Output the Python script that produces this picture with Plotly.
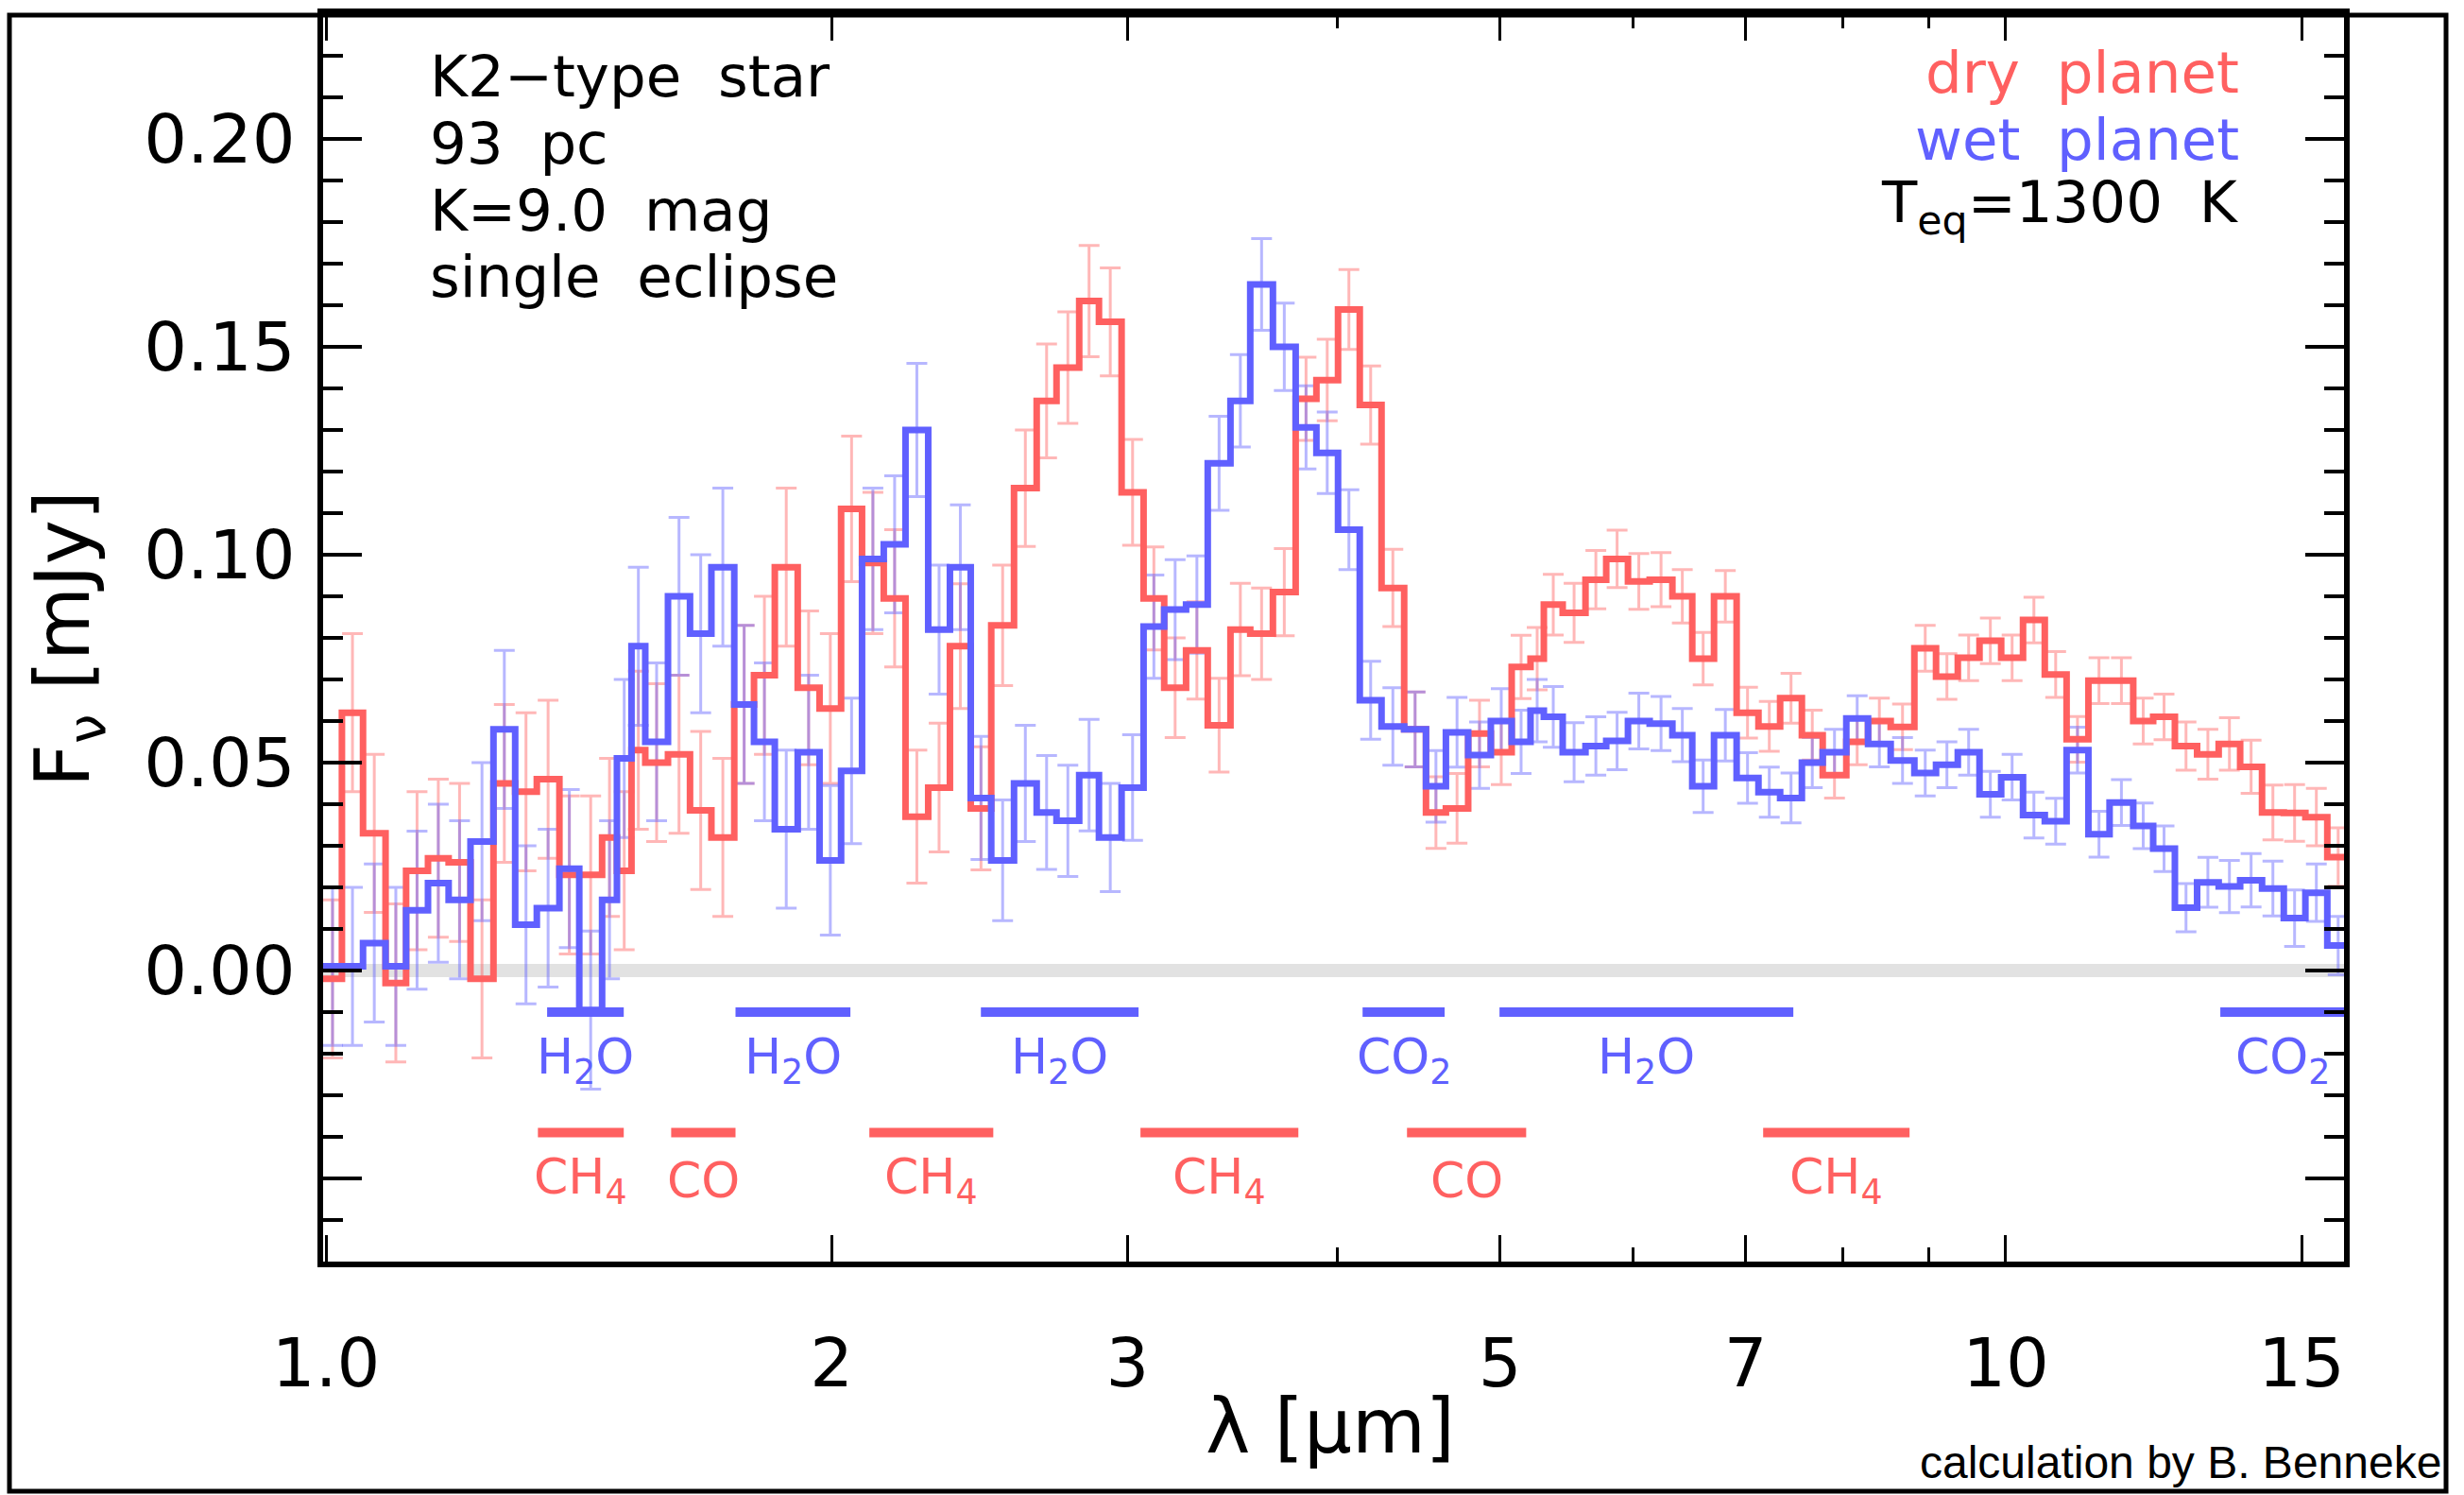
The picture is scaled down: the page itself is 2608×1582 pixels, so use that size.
import numpy as np
import plotly.graph_objects as go

# ---- spectral bins: wavelength edges in micron ----
wl_edges = [0.996, 1.022, 1.052, 1.085, 1.116, 1.150, 1.183, 1.219, 1.258, 1.296,
            1.335, 1.377, 1.415, 1.460, 1.490, 1.520, 1.549, 1.598, 1.647, 1.696,
            1.750, 1.798, 1.850, 1.909, 1.967, 2.026, 2.085, 2.148, 2.213, 2.283,
            2.352, 2.420, 2.489, 2.568, 2.649, 2.722, 2.808, 2.885, 2.976, 3.067,
            3.155, 3.251, 3.349, 3.455, 3.550, 3.662, 3.778, 3.887, 4.004, 4.125,
            4.250, 4.384, 4.517, 4.642, 4.786, 4.937, 5.080, 5.213, 5.309, 5.448,
            5.621, 5.783, 5.958, 6.138, 6.332, 6.507, 6.704, 6.915, 7.125, 7.340,
            7.562, 7.781, 8.037, 8.280, 8.541, 8.823, 9.089, 9.364, 9.647, 9.938,
            10.24, 10.55, 10.87, 11.20, 11.53, 11.91, 12.24, 12.61, 13.00, 13.39,
            13.79, 14.21, 14.64, 15.08, 15.54, 16.01]

# ---- binned planet flux [mJy] ----
flux_dry = [-0.002, 0.062, 0.033, -0.003, 0.024, 0.027, 0.026, -0.002, 0.045, 0.043,
            0.046, 0.023, 0.023, 0.032, 0.024, 0.053, 0.050, 0.052, 0.0385, 0.032,
            0.064, 0.071, 0.097, 0.068, 0.063, 0.111, 0.098, 0.0895, 0.037, 0.044,
            0.078, 0.039, 0.083, 0.116, 0.137, 0.145, 0.161, 0.156, 0.115, 0.0895,
            0.068, 0.077, 0.059, 0.082, 0.081, 0.091, 0.1375, 0.142, 0.159, 0.136,
            0.092, 0.058, 0.038, 0.039, 0.057, 0.0525, 0.073, 0.075, 0.088, 0.086,
            0.094, 0.099, 0.0936, 0.094, 0.090, 0.075, 0.090, 0.062, 0.0587, 0.0655,
            0.0566, 0.047, 0.055, 0.060, 0.0586, 0.0775, 0.0707, 0.0752, 0.0793, 0.0752,
            0.0843, 0.0712, 0.0556, 0.0697, 0.0697, 0.060, 0.061, 0.054, 0.052, 0.0545,
            0.049, 0.038, 0.0379, 0.0369, 0.0273]

flux_wet = [0.001, 0.001, 0.0066, 0.001, 0.0145, 0.021, 0.017, 0.031, 0.058, 0.011,
            0.015, 0.0245, -0.0095, 0.017, 0.051, 0.078, 0.055, 0.090, 0.081, 0.097,
            0.064, 0.055, 0.034, 0.0525, 0.0265, 0.048, 0.099, 0.1025, 0.130, 0.082,
            0.097, 0.0415, 0.0265, 0.045, 0.038, 0.036, 0.047, 0.032, 0.044, 0.0827,
            0.0868, 0.088, 0.122, 0.137, 0.165, 0.150, 0.1306, 0.1245, 0.106, 0.065,
            0.0587, 0.058, 0.0443, 0.0573, 0.0518, 0.060, 0.055, 0.0625, 0.061, 0.0525,
            0.054, 0.0552, 0.060, 0.0594, 0.0566, 0.0443, 0.0566, 0.0463, 0.0429, 0.0415,
            0.050, 0.0525, 0.0606, 0.0545, 0.0505, 0.0475, 0.0495, 0.0525, 0.0424, 0.0465,
            0.0374, 0.0359, 0.053, 0.0328, 0.0404, 0.0348, 0.0293, 0.0151, 0.0212, 0.0202,
            0.0217, 0.0197, 0.0126, 0.0187, 0.006]

# 1-sigma uncertainty per bin [mJy], single eclipse
flux_err = [0.019, 0.019, 0.019, 0.019, 0.019, 0.019, 0.019, 0.019, 0.019, 0.019,
            0.019, 0.019, 0.019, 0.019, 0.019, 0.019, 0.019, 0.019, 0.019, 0.019,
            0.019, 0.019, 0.019, 0.0185, 0.018, 0.0175, 0.017, 0.0165, 0.016, 0.0155,
            0.015, 0.0148, 0.0145, 0.014, 0.0137, 0.0134, 0.0134, 0.013, 0.0127, 0.0124,
            0.012, 0.0117, 0.0113, 0.0111, 0.011, 0.0105, 0.010, 0.0098, 0.0096, 0.0094,
            0.0093, 0.009, 0.0086, 0.0084, 0.008, 0.0078, 0.0076, 0.0075, 0.0073, 0.0071,
            0.007, 0.0069, 0.0067, 0.0065, 0.0064, 0.0063, 0.0062, 0.0061, 0.006, 0.006,
            0.006, 0.0055, 0.0055, 0.0055, 0.0055, 0.0055, 0.0055, 0.0055, 0.0055, 0.0055,
            0.0055, 0.0055, 0.0055, 0.0055, 0.0055, 0.0055, 0.0055, 0.0058, 0.006, 0.0063,
            0.0064, 0.0066, 0.0068, 0.0069, 0.007]

# ---- molecular absorption bands [micron] ----
wet_band_names = ["H<sub>2</sub>O", "H<sub>2</sub>O", "H<sub>2</sub>O",
                  "CO<sub>2</sub>", "H<sub>2</sub>O", "CO<sub>2</sub>"]
wet_band_lo = [1.354, 1.753, 2.454, 4.141, 4.996, 13.42]
wet_band_hi = [1.504, 2.052, 3.046, 4.634, 7.474, 16.0]

dry_band_names = ["CH<sub>4</sub>", "CO", "CH<sub>4</sub>", "CH<sub>4</sub>", "CO", "CH<sub>4</sub>"]
dry_band_lo = [1.337, 1.605, 2.106, 3.054, 4.401, 7.171]
dry_band_hi = [1.504, 1.753, 2.496, 3.792, 5.182, 8.765]

# ---- axis ticks ----
x_major = [1, 2, 3, 5, 7, 10, 15]
x_major_text = ["1.0", "2", "3", "5", "7", "10", "15"]
x_minor = [4, 6, 8, 9]
y_major = [-0.05, 0.0, 0.05, 0.10, 0.15, 0.20]
y_major_text = ["", "0.00", "0.05", "0.10", "0.15", "0.20"]

# ---- styling ----
RED = "rgb(255,96,96)"
BLUE = "rgb(96,96,255)"
RED_ERR = "rgba(255,96,96,0.45)"
BLUE_ERR = "rgba(96,96,255,0.45)"
FONT = "DejaVu Sans"

W, H = 2608, 1582
L, R, T, B = 342, 127, 9, 247
X_MIN, X_MAX = 0.996, 15.9
Y_RANGE = [-0.07, 0.23]
WET_BAND_Y, DRY_BAND_Y = -0.010, -0.039
WET_LABEL_Y, DRY_LABEL_Y = -0.0215, -0.0505


def px_x(p):
    return (p - L) / (W - L - R)


def px_y(p):
    return (H - B - p) / (H - T - B)


edges = np.array(wl_edges)
centers = np.sqrt(edges[:-1] * edges[1:])

fig = go.Figure()

# error bars at bin centres
for flux, col in ((flux_dry, RED_ERR), (flux_wet, BLUE_ERR)):
    fig.add_trace(go.Scatter(
        x=centers, y=flux, mode="markers",
        marker=dict(size=1, color="rgba(0,0,0,0)"),
        error_y=dict(type="data", array=flux_err, visible=True,
                     color=col, thickness=3, width=11),
        showlegend=False, hoverinfo="skip"))

# binned spectra as histograms
for flux, col in ((flux_dry, RED), (flux_wet, BLUE)):
    fig.add_trace(go.Scatter(
        x=edges, y=list(flux) + [flux[-1]], mode="lines",
        line=dict(color=col, width=7, shape="hv"),
        showlegend=False, hoverinfo="skip"))

# absorption band markers
annotations = []
for names, lo, hi, ybar, ylab, col in (
        (wet_band_names, wet_band_lo, wet_band_hi, WET_BAND_Y, WET_LABEL_Y, BLUE),
        (dry_band_names, dry_band_lo, dry_band_hi, DRY_BAND_Y, DRY_LABEL_Y, RED)):
    bx, by = [], []
    for a, b in zip(lo, hi):
        bx += [a, b, None]
        by += [ybar, ybar, None]
    fig.add_trace(go.Scatter(x=bx, y=by, mode="lines",
                             line=dict(color=col, width=10),
                             showlegend=False, hoverinfo="skip"))
    for name, a, b in zip(names, lo, hi):
        xc = 0.5 * (np.log10(a) + np.log10(min(b, X_MAX)))
        annotations.append(dict(x=xc, y=ylab, xref="x", yref="y", text=name,
                                showarrow=False, xanchor="center", yanchor="middle",
                                font=dict(family=FONT, size=52, color=col)))

# info text, upper left
info_left = ["K2\u2212type  star", "93  pc", "K=9.0  mag", "single  eclipse"]
for i, txt in enumerate(info_left):
    annotations.append(dict(x=px_x(453), y=px_y(75 + 71 * i), xref="paper", yref="paper",
                            text=txt, showarrow=False, xanchor="left", yanchor="middle",
                            font=dict(family=FONT, size=61, color="black")))

# info text, upper right
info_right = [("dry  planet", RED), ("wet  planet", BLUE),
              ("T<sub>eq</sub>=1300  K", "black")]
for i, (txt, col) in enumerate(info_right):
    annotations.append(dict(x=px_x(2372), y=px_y(71 + 71 * i), xref="paper", yref="paper",
                            text=txt, showarrow=False, xanchor="right", yanchor="middle",
                            font=dict(family=FONT, size=61, color=col)))

# axis titles
annotations.append(dict(x=px_x(1408), y=px_y(1510), xref="paper", yref="paper",
                        text="\u03bb [\u03bcm]", showarrow=False,
                        xanchor="center", yanchor="middle",
                        font=dict(family=FONT, size=80, color="black")))
annotations.append(dict(x=px_x(72), y=px_y(673), xref="paper", yref="paper",
                        text="F<sub>\u03bd</sub> [mJy]", showarrow=False, textangle=-90,
                        xanchor="center", yanchor="middle",
                        font=dict(family=FONT, size=80, color="black")))

# credit line
annotations.append(dict(x=px_x(2586), y=px_y(1548), xref="paper", yref="paper",
                        text="calculation by B. Benneke", showarrow=False,
                        xanchor="right", yanchor="middle",
                        font=dict(family="Liberation Sans", size=48, color="black")))

fig.update_layout(
    width=W, height=H,
    margin=dict(l=L, r=R, t=T, b=B, pad=0),
    paper_bgcolor="white", plot_bgcolor="white",
    showlegend=False,
    annotations=annotations,
    shapes=[dict(type="rect", xref="paper", yref="paper",
                 x0=px_x(10), x1=px_x(2589), y0=px_y(1579), y1=px_y(10),
                 line=dict(color="black", width=5), layer="above")],
    xaxis=dict(
        type="log", range=[np.log10(X_MIN), np.log10(X_MAX)],
        tickmode="array", tickvals=x_major, ticktext=x_major_text,
        ticks="inside", ticklen=28, tickwidth=3, tickcolor="black",
        minor=dict(tickmode="array", tickvals=x_minor, ticks="inside",
                   ticklen=15, tickwidth=3, tickcolor="black", showgrid=False),
        showline=True, linewidth=6, linecolor="black", mirror="allticks",
        showgrid=False, zeroline=False,
        tickfont=dict(family=FONT, size=72, color="black"),
        ticklabelstandoff=40,
    ),
    yaxis=dict(
        range=Y_RANGE,
        tickmode="array", tickvals=y_major, ticktext=y_major_text,
        ticks="inside", ticklen=41, tickwidth=4, tickcolor="black",
        minor=dict(tick0=0, dtick=0.01, ticks="inside", ticklen=21,
                   tickwidth=4, tickcolor="black", showgrid=False),
        showline=True, linewidth=6, linecolor="black", mirror="allticks",
        showgrid=False,
        zeroline=True, zerolinecolor="#e2e2e2", zerolinewidth=14,
        tickfont=dict(family=FONT, size=72, color="black"),
        ticklabelstandoff=9,
    ),
)

fig.write_html("out.html")
